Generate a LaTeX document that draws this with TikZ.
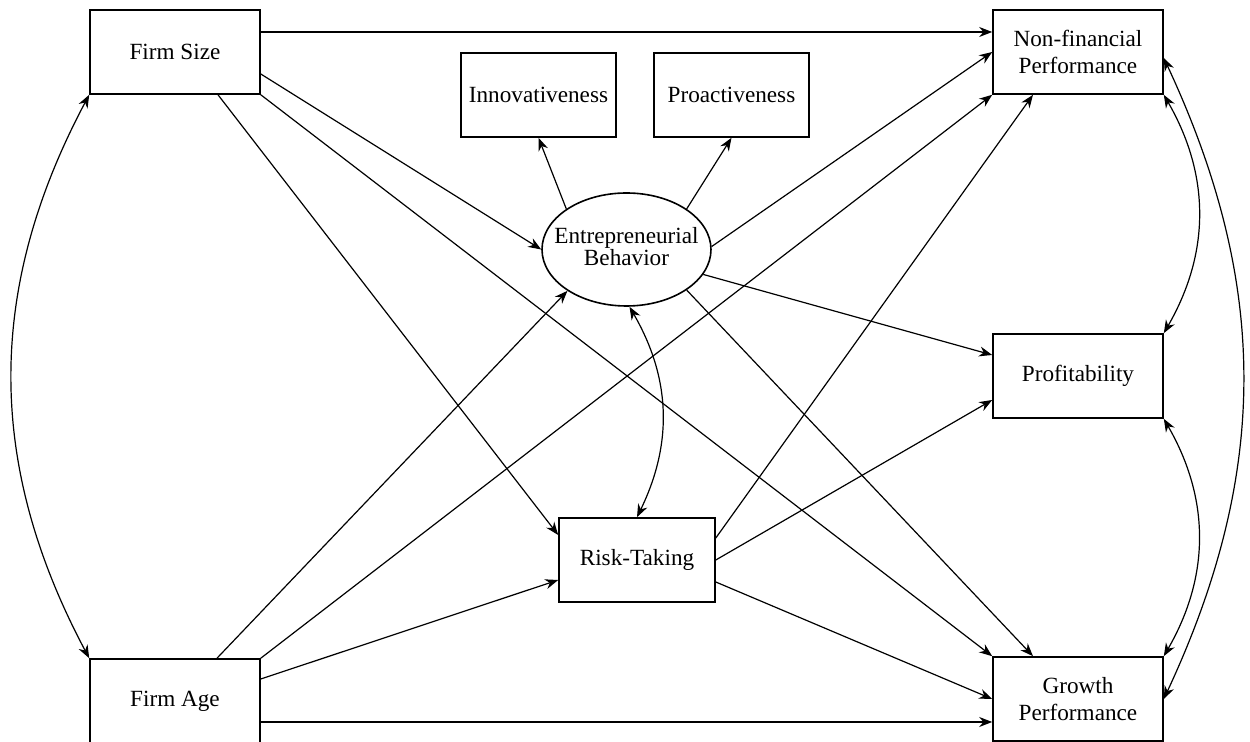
\documentclass[tikz,border=0pt]{standalone}
\usepackage{fontspec}
\setmainfont{Liberation Serif}
\usetikzlibrary{arrows.meta,shapes.geometric}

\begin{document}
\begin{tikzpicture}[
    x=0.5pt, y=-0.5pt,
    font=\fontsize{11.6}{13.7}\selectfont,
    var/.style={rectangle, draw, line width=0.8pt, minimum width=85pt, minimum height=42pt, inner sep=0pt, align=center},
    latent/.style={ellipse, draw, line width=0.8pt, minimum width=84.5pt, minimum height=56.5pt, inner sep=0pt},
    effect/.style={-{Stealth[length=6.5pt,width=5pt]}, line width=0.6pt},
    cov/.style={{Stealth[length=6.5pt,width=5pt]}-{Stealth[length=6.5pt,width=5pt]}, line width=0.6pt}
]
\useasboundingbox (0,0) rectangle (1250,742);

\node[var] (fsize) at (175,52) {Firm Size};
\node[var] (fage) at (175,701) {Firm Age};
\node[var, minimum width=77.5pt] (innov) at (538.5,95) {Innovativeness};
\node[var, minimum width=77.5pt] (proact) at (731.5,95) {Proactiveness};
\node[latent] (ent) at (626.5,249.5) {\makebox[0pt]{\fontsize{11.6}{10}\selectfont\begin{tabular}{@{}c@{}}Entrepreneurial\\Behavior\end{tabular}}};
\node[var, minimum width=78pt] (risk) at (637,560) {Risk-Taking};
\node[var] (nonfin) at (1078,52) {Non-financial\\Performance};
\node[var] (profit) at (1078,376) {Profitability};
\node[var] (growth) at (1078,699) {Growth\\Performance};

% firm size
\draw[effect] ([yshift=10pt]fsize.east) -- ([yshift=10pt]nonfin.west);
\draw[effect] ([yshift=-11pt]fsize.east) -- (ent.west);
\draw[effect] (fsize.south east) -- (growth.north west);
\draw[effect] ([xshift=21.5pt]fsize.south) -- ([yshift=12.5pt]risk.west);

% firm age
\draw[effect] ([xshift=21pt]fage.north) -- (ent.215);
\draw[effect] (fage.north east) -- (nonfin.south west);
\draw[effect] ([yshift=11pt]fage.east) -- ([yshift=-10pt]risk.west);
\draw[effect] ([yshift=-10.5pt]fage.east) -- ([yshift=-11.5pt]growth.west);

% entrepreneurial behavior
\draw[effect] (ent.146) -- (innov.south);
\draw[effect] (ent.34) -- (proact.south);
\draw[effect] (ent.2) -- (nonfin.west);
\draw[effect] (ent.-18) -- ([yshift=10.5pt]profit.west);
\draw[effect] (ent.-34) -- ([xshift=-22.5pt]growth.north);

% risk-taking
\draw[effect] ([yshift=11pt]risk.east) -- ([xshift=-22.5pt]nonfin.south);
\draw[effect] (risk.east) -- ([yshift=-12pt]profit.west);
\draw[effect] ([yshift=-11pt]risk.east) -- (growth.west);

% covariances
\draw[cov] (fsize.south west) to[bend right=28] (fage.north west);
\draw[cov] (ent.-87) to[bend left=28] (risk.north);
\draw[cov] (nonfin.south east) to[bend left=30] (profit.north east);
\draw[cov] (profit.south east) to[bend left=30] (growth.north east);
\draw[cov] ([yshift=-3pt]nonfin.east) to[bend left=25] (growth.east);

\end{tikzpicture}
\end{document}
